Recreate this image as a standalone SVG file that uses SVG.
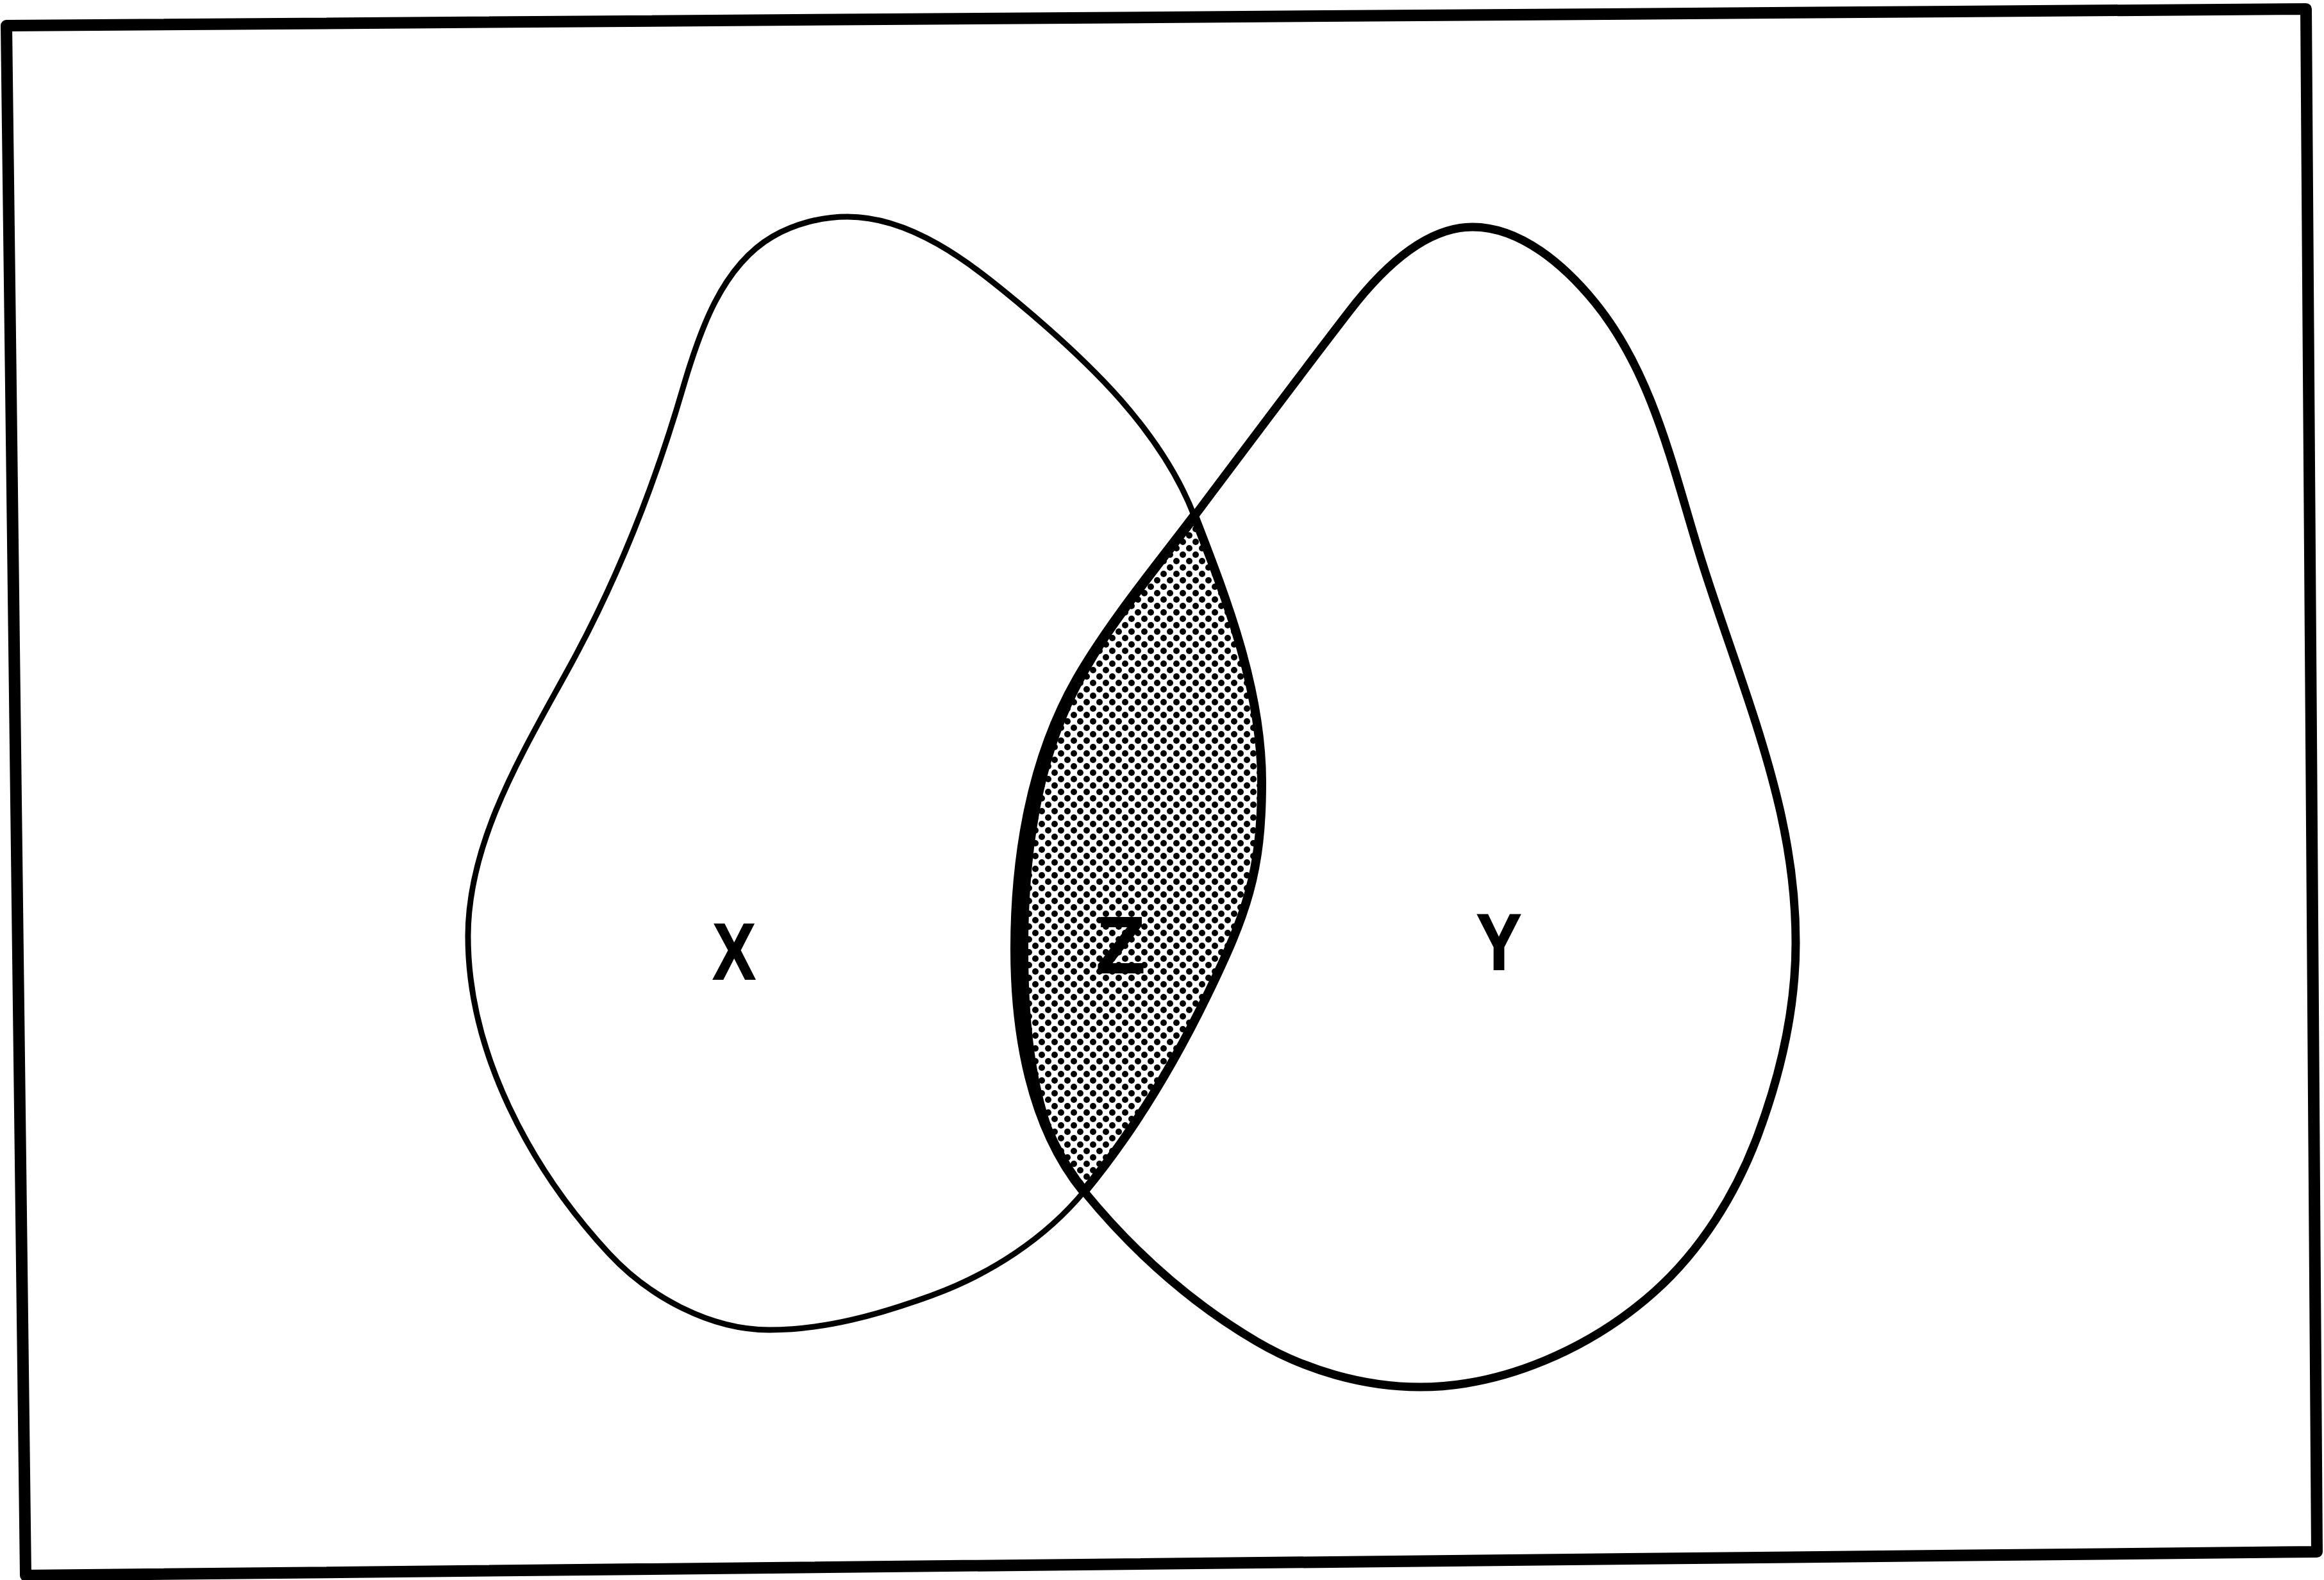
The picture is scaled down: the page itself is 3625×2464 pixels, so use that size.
<svg xmlns="http://www.w3.org/2000/svg" width="3625" height="2464" viewBox="0 0 3625 2464">
<style>
  .outline { fill: none; stroke: #000; stroke-linejoin: round; stroke-linecap: round; }
  .lbl { font-family: "Liberation Sans", Arial, sans-serif; font-weight: bold; font-size: 125px; fill: #000; stroke: #000; stroke-width: 2; text-anchor: middle; }
</style>
<defs>
  <pattern id="dots" patternUnits="userSpaceOnUse" width="20" height="20">
    <rect width="20" height="20" fill="#fff"/>
    <circle cx="5" cy="5" r="5" fill="#000"/>
    <circle cx="15" cy="15" r="5" fill="#000"/>
  </pattern>
</defs>
<rect width="3625" height="2464" fill="#fff"/>
<g id="border">
  <polygon points="10,40 3597,14 3614,2420 40,2457" fill="none" stroke="#000" stroke-width="18" stroke-linejoin="round"/>
</g>
<g id="node-z">
  <path id="z-fill" fill="url(#dots)" d="M 1863 805 C 1914.8 938.3 1968 1077 1968 1220 C 1968 1360 1944.2 1426 1883 1552 C 1830.6 1659.9 1767.4 1765.6 1691 1858 C 1608.1 1756.6 1584 1611 1584 1480 C 1584 1336 1608.6 1185 1680 1060 C 1732.1 968.9 1815 869 1863 805 Z"/>
</g>
<g id="node-x">
  <path class="outline" stroke-width="9" d="M 1322 338 C 1421 338 1512 408.5 1588 472 C 1698.4 564.3 1810.9 670.8 1863 805 C 1914.8 938.3 1968 1077 1968 1220 C 1968 1360 1944.2 1426 1883 1552 C 1830.6 1659.9 1767.4 1765.6 1691 1858 C 1629.8 1931.9 1544.1 1987.1 1454 2020 C 1372.3 2049.8 1287 2074 1200 2074 C 1108 2074 1012.6 2022.4 950 1955 C 826.9 1822.3 730 1641 730 1460 C 730 1309 818.8 1167.6 891 1035 C 964.6 899.8 1021.9 753.8 1065 606 C 1090.8 517.7 1125.5 415.3 1205 369 C 1239.6 348.9 1282 338 1322 338 Z"/>
  <text class="lbl" transform="translate(1145 1527) scale(0.8 1)">X</text>
</g>
<g id="node-y">
  <path class="outline" stroke-width="13" d="M 1863 805 C 1943.4 697.8 2023.1 591.1 2105 485 C 2152 424 2220 354 2297 354 C 2372 354 2440.6 413.9 2488 472 C 2579.6 584.4 2610.6 735.7 2654 874 C 2694.1 1001.8 2744.3 1126.6 2775 1257 C 2791.5 1327.1 2801 1398 2801 1470 C 2801 1572 2777.6 1674.4 2742 1770 C 2707.8 1861.8 2653.2 1949.9 2580 2015 C 2482.1 2102 2346 2163 2215 2163 C 2127 2163 2035.9 2136.6 1960 2092 C 1857.4 2031.7 1766.3 1950.1 1691 1858 C 1608.1 1756.6 1584 1611 1584 1480 C 1584 1336 1608.6 1185 1680 1060 C 1732.1 968.9 1815 869 1863 805 Z"/>
  <text class="lbl" transform="translate(2338 1512) scale(0.84 1)">Y</text>
</g>
<g id="z-edges">
  <path class="outline" stroke-width="14" d="M 1863 805 C 1914.8 938.3 1968 1077 1968 1220 C 1968 1360 1944.2 1426 1883 1552 C 1830.6 1659.9 1767.4 1765.6 1691 1858"/>
  <path class="outline" stroke-width="16" d="M 1691 1858 C 1608.1 1756.6 1584 1611 1584 1480 C 1584 1336 1608.6 1185 1680 1060 C 1732.1 968.9 1815 869 1863 805"/>
  <path fill="#000" d="M 1691 1858 C 1608.1 1756.6 1584 1611 1584 1480 C 1584 1336 1608.6 1185 1680 1060 C 1732.1 968.9 1815 869 1863 805 C 1817 871 1739 972 1689 1065 C 1623 1189 1604 1336 1604 1480 C 1604 1611 1618 1756.6 1691 1858 Z"/>
  <text class="lbl" transform="translate(1748 1517)">Z</text>
</g>
</svg>
